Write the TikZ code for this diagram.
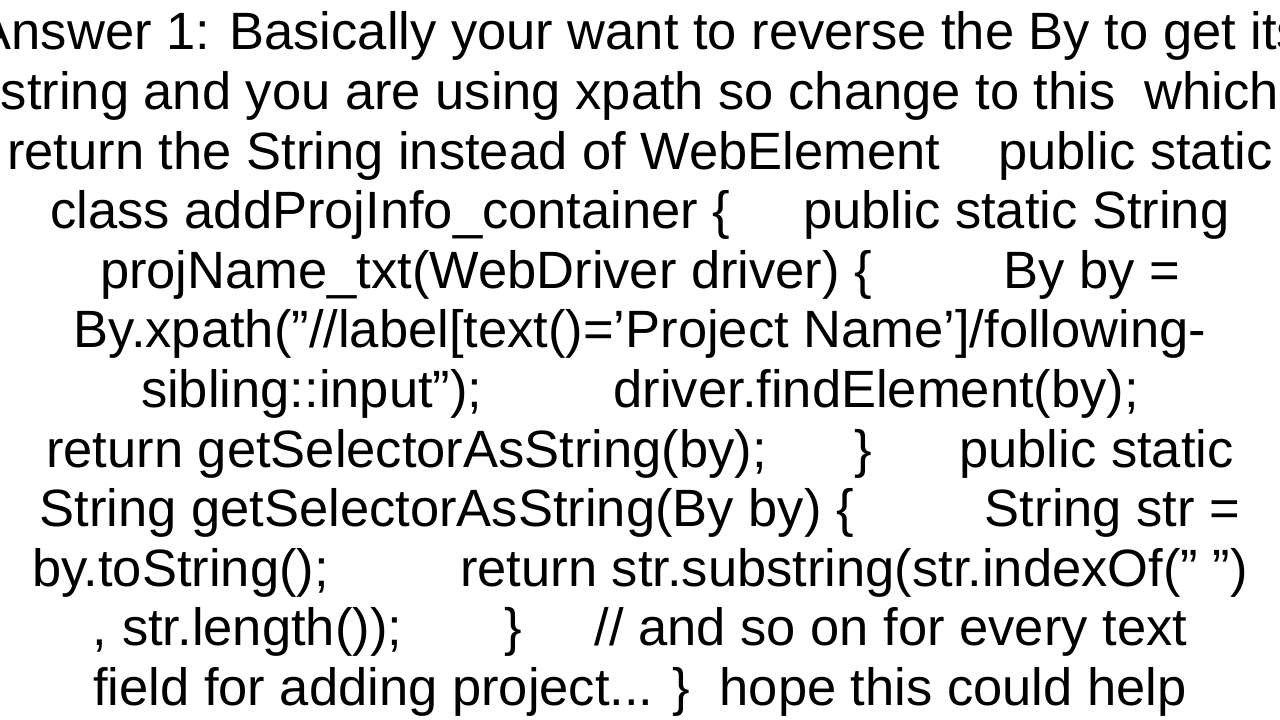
\documentclass[tikz,border=0pt]{standalone}
\usepackage{fontspec}
\setmainfont{Liberation Sans}[Ligatures=ResetAll]
\begin{document}
\begin{tikzpicture}[x=1pt,y=1pt,line/.style={anchor=base,inner sep=0pt,font=\fontsize{52.5}{60}\selectfont}]
\useasboundingbox (0,0) rectangle (1280,720);
\fill[white] (0,0) rectangle (1280,720);
\def\sp#1{\hspace*{\dimexpr #1\fontdimen2\font\relax}}
\def\dq{\char"0022\relax}\def\sq{\char"0027\relax}
\node[line] (l1) at (640,670) {Answer 1: Basically your want to reverse the By to get its};
\node[line] (l2) at (640,610.4) {string and you are using xpath so change to this\sp{2}which};
\node[line] (l3) at (640,550.8) {return the String instead of WebElement\sp{4}public static};
\node[line] (l4) at (640,491.2) {class addProjInfo\_container \{\sp{5}public static String};
\node[line] (l5) at (640,431.6) {projName\_txt(WebDriver driver) \{\sp{9}By by =};
\node[line] (l6) at (640,372) {By.xpath(\dq//label[text()=\sq Project Name\sq]/following-};
\node[line] (l7) at (640,312.4) {sibling::input\dq);\sp{9}driver.findElement(by);};
\node[line] (l8) at (640,252.8) {return getSelectorAsString(by);\sp{6}\}\sp{6}public static};
\node[line] (l9) at (640,193.2) {String getSelectorAsString(By by) \{\sp{9}String str =};
\node[line] (l10) at (640,133.6) {by.toString();\sp{9}return str.substring(str.indexOf(\dq\ \dq)};
\node[line] (l11) at (640,74) {, str.length());\sp{7}\}\sp{5}// and so on for every text};
\node[line] (l12) at (640,14.4) {field for adding project... \}\sp{2}hope this could help};
\end{tikzpicture}
\end{document}
